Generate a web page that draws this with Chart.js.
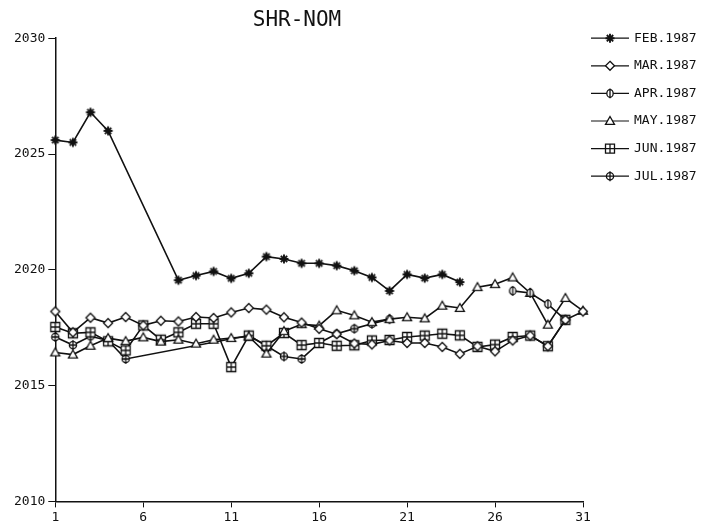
<!DOCTYPE html>
<html>
<head>
<meta charset="utf-8">
<script src="https://cdn.jsdelivr.net/npm/chart.js@4"></script>
<style>
  html, body { margin: 0; padding: 0; background: #fff; }
  #wrap { width: 705px; height: 529px; }
</style>
</head>
<body>
<div id="wrap"><canvas id="shrChart"></canvas></div>
<script>
const days = [1, 2, 3, 4, 5, 6, 7, 8, 9, 10, 11, 12, 13, 14, 15, 16,
              17, 18, 19, 20, 21, 22, 23, 24, 25, 26, 27, 28, 29, 30, 31];

const seriesNames = ['FEB.1987', 'MAR.1987', 'APR.1987', 'MAY.1987', 'JUN.1987', 'JUL.1987'];

const feb1987 = [2025.6, 2025.5, 2026.8, 2026.0, null, null, null, 2019.55, 2019.75, 2019.93,
                 2019.63, 2019.85, 2020.57, 2020.47, 2020.28, 2020.28, 2020.18, 2019.96, 2019.67, 2019.09,
                 2019.8, 2019.64, 2019.8, 2019.47, null, null, null, null, null, null, null];
const mar1987 = [2018.2, 2017.3, 2017.93, 2017.7, 2017.96, 2017.6, 2017.8, 2017.77, 2017.96, 2017.92,
                 2018.16, 2018.35, 2018.28, 2017.95, 2017.72, 2017.45, 2017.22, 2016.82, 2016.78, 2016.95,
                 2016.84, 2016.84, 2016.67, 2016.37, 2016.7, 2016.48, 2016.95, 2017.16, 2016.7, 2017.84, 2018.2];
const apr1987 = [null, null, null, null, null, null, null, null, null, null,
                 null, null, null, null, null, null, null, null, null, null,
                 null, null, null, null, null, null, 2019.09, 2019.0, 2018.52, 2017.84, null];
const may1987 = [2016.43, 2016.34, 2016.72, 2017.05, 2016.92, 2017.08, 2016.9, 2016.98, 2016.81, 2016.98,
                 2017.05, 2017.12, 2016.38, 2017.35, 2017.65, 2017.59, 2018.25, 2018.03, 2017.74, 2017.87,
                 2017.95, 2017.9, 2018.45, 2018.35, 2019.25, 2019.38, 2019.67, 2019.0, 2017.63, 2018.78, 2018.23];
const jun1987 = [2017.53, 2017.26, 2017.3, 2016.91, 2016.52, 2017.6, 2016.98, 2017.3, 2017.67, 2017.67,
                 2015.8, 2017.16, 2016.72, 2017.27, 2016.75, 2016.84, 2016.72, 2016.74, 2016.95, 2016.97,
                 2017.1, 2017.16, 2017.24, 2017.17, 2016.67, 2016.77, 2017.1, 2017.16, 2016.7, 2017.84, null];
const jul1987 = [2017.1, 2016.75, 2017.13, 2016.95, 2016.15, null, null, null, null, null,
                 null, 2017.16, 2016.72, 2016.26, 2016.15, 2016.84, 2017.24, 2017.46, 2017.67, 2017.87,
                 null, null, null, null, null, null, null, null, null, null, null];

const yTicks = [2010, 2015, 2020, 2025, 2030];
const xTicks = [1, 6, 11, 16, 21, 26, 31];

const ink = '#111';
const markerKinds = ['star', 'diamond', 'circleBar', 'triangle', 'squarePlus', 'circlePlus'];

// draws one plotter-like marker centred on (cx, cy)
function drawMarker(g, kind, cx, cy, r) {
    g.save();
    g.strokeStyle = ink;
    g.fillStyle = '#fff';
    g.lineWidth = 1.3;
    g.beginPath();
    if (kind === 'star') {
        g.lineWidth = 1.9;
        for (let k = 0; k < 4; k++) {
            const a = k * Math.PI / 4;
            g.moveTo(cx - Math.cos(a) * r, cy - Math.sin(a) * r);
            g.lineTo(cx + Math.cos(a) * r, cy + Math.sin(a) * r);
        }
        g.stroke();
    } else if (kind === 'diamond') {
        g.moveTo(cx, cy - r); g.lineTo(cx + r, cy); g.lineTo(cx, cy + r); g.lineTo(cx - r, cy);
        g.closePath(); g.fill(); g.stroke();
    } else if (kind === 'triangle') {
        g.moveTo(cx, cy - r); g.lineTo(cx + r, cy + r * 0.75); g.lineTo(cx - r, cy + r * 0.75);
        g.closePath(); g.fill(); g.stroke();
    } else if (kind === 'squarePlus') {
        g.rect(cx - r, cy - r, 2 * r, 2 * r); g.fill(); g.stroke();
        g.beginPath();
        g.moveTo(cx - r, cy); g.lineTo(cx + r, cy);
        g.moveTo(cx, cy - r); g.lineTo(cx, cy + r);
        g.stroke();
    } else if (kind === 'circleBar') {
        g.ellipse(cx, cy, r * 0.7, r * 0.85, 0, 0, 2 * Math.PI); g.fill(); g.stroke();
        g.beginPath();
        g.moveTo(cx, cy - r * 1.1); g.lineTo(cx, cy + r * 1.1);
        g.stroke();
    } else if (kind === 'circlePlus') {
        g.arc(cx, cy, r * 0.8, 0, 2 * Math.PI); g.fill(); g.stroke();
        g.beginPath();
        g.moveTo(cx, cy - r * 1.1); g.lineTo(cx, cy + r * 1.1);
        g.moveTo(cx - r * 0.8, cy); g.lineTo(cx + r * 0.8, cy);
        g.stroke();
    }
    g.restore();
}

function markerCanvas(kind) {
    const c = document.createElement('canvas');
    c.width = 14; c.height = 14;
    drawMarker(c.getContext('2d'), kind, 7, 7, 4.5);
    return c;
}

const pointImages = markerKinds.map(markerCanvas);

// legend drawn by hand to the right of the plot, like the plotter output
const plotterLegend = {
    id: 'plotterLegend',
    afterDraw(chart) {
        const g = chart.ctx;
        const area = chart.chartArea;
        const x0 = area.right + 8;
        g.save();
        g.font = '13px "DejaVu Sans Mono"';
        g.fillStyle = ink;
        g.textBaseline = 'middle';
        seriesNames.forEach((name, i) => {
            const y = area.top + i * 27.6;
            g.strokeStyle = ink;
            g.lineWidth = 1.2;
            g.beginPath();
            g.moveTo(x0, y); g.lineTo(x0 + 38, y);
            g.stroke();
            drawMarker(g, markerKinds[i], x0 + 19, y, 4.5);
            g.fillText(name, x0 + 43, y);
        });
        g.restore();
    }
};

const allSeries = [feb1987, mar1987, apr1987, may1987, jun1987, jul1987];

const datasets = allSeries.map((vals, i) => ({
    label: seriesNames[i],
    data: days.map((d, k) => ({ x: d, y: vals[k] })),
    borderColor: ink,
    borderWidth: 1.6,
    backgroundColor: '#fff',
    pointStyle: pointImages[i],
    pointRadius: 5,
    spanGaps: true,
    tension: 0,
    clip: false
}));

new Chart(document.getElementById('shrChart'), {
    type: 'line',
    data: { datasets: datasets },
    options: {
        responsive: true,
        maintainAspectRatio: false,
        animation: false,
        layout: { padding: { left: 11, right: 122, top: 0, bottom: 2 } },
        plugins: {
            legend: { display: false },
            tooltip: { enabled: false },
            title: {
                display: true,
                text: 'SHR-NOM',
                color: ink,
                font: { family: 'DejaVu Sans Mono', size: 21, weight: 'normal' },
                padding: { top: 8, bottom: 5 }
            }
        },
        scales: {
            x: {
                type: 'linear',
                min: 1,
                max: 31,
                afterBuildTicks: axis => { axis.ticks = xTicks.map(v => ({ value: v })); },
                grid: { display: true, drawOnChartArea: false, drawTicks: true, tickLength: 6, color: ink },
                border: { display: true, color: ink, width: 1.5 },
                ticks: {
                    color: ink, padding: 2, maxRotation: 0,
                    font: { family: 'DejaVu Sans Mono', size: 13 },
                    callback: v => String(v)
                }
            },
            y: {
                min: 2010,
                max: 2030,
                afterBuildTicks: axis => { axis.ticks = yTicks.map(v => ({ value: v })); },
                grid: { display: true, drawOnChartArea: false, drawTicks: true, tickLength: 7, color: ink },
                border: { display: true, color: ink, width: 1.5 },
                ticks: {
                    color: ink, padding: 3,
                    font: { family: 'DejaVu Sans Mono', size: 13 },
                    callback: v => String(v)
                }
            }
        }
    },
    plugins: [plotterLegend]
});
</script>
</body>
</html>
